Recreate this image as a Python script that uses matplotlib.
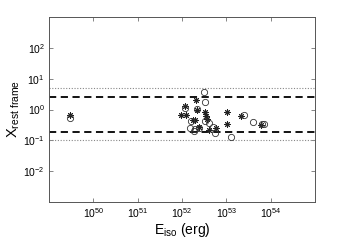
import matplotlib.pyplot as plt
from matplotlib.ticker import FixedLocator, NullLocator

plt.rcParams['font.family'] = ['Liberation Sans', 'DejaVu Sans']
plt.rcParams['mathtext.fontset'] = 'custom'
plt.rcParams['mathtext.rm'] = 'Liberation Sans'

# asterisk points (E_iso in erg, X rest frame)
star_E = [2.94e49, 9.7e51, 1.17e52, 1.25e52, 2.03e52, 2.17e52, 1.77e52, 2.0e52,
          2.41e52, 3.29e52, 3.4e52, 3.65e52, 3.98e52, 5.9e52, 1.03e53, 1.03e53,
          2.12e53, 6.07e53]
star_X = [0.67, 0.67, 1.31, 0.64, 2.0, 0.95, 0.46, 0.45,
          0.28, 0.80, 0.62, 0.51, 0.22, 0.26, 0.80, 0.34,
          0.62, 0.32]

# open circle points
circ_E = [2.99e49, 1.15e52, 1.62e52, 1.49e52, 1.93e52, 1.89e52, 2.21e52, 2.45e52,
          3.12e52, 3.34e52, 3.34e52, 4.05e52, 4.89e52, 5.7e52, 1.29e53, 2.56e53,
          4.07e53, 6.38e53, 7.2e53]
circ_X = [0.55, 1.16, 0.43, 0.26, 0.23, 0.20, 1.03, 0.26,
          3.6, 1.8, 0.41, 0.36, 0.28, 0.17, 0.125, 0.66,
          0.39, 0.33, 0.35]

# horizontal limits
dashed_levels = [2.5, 0.18]
dotted_levels = [4.8, 0.1]

xticks = [1e50, 1e51, 1e52, 1e53, 1e54]
yticks = [1e-2, 1e-1, 1e0, 1e1, 1e2]

fig = plt.figure(figsize=(3.48, 2.42), dpi=100)
ax = fig.add_axes([0.141, 0.165, 0.764, 0.765])
ax.set_xscale("log")
ax.set_yscale("log")

for lv in dotted_levels:
    ax.axhline(lv, color="#888888", linestyle=(0, (1, 1.5)), linewidth=0.8)
for lv in dashed_levels:
    ax.axhline(lv, color="black", linestyle=(0, (4, 2.5)), linewidth=1.3)

# matlab-like asterisk (8 arms)
ax.plot(star_E, star_X, linestyle="none", marker=(8, 2, 0), markersize=4.5,
        color="#222222", markeredgewidth=0.7)
ax.plot(circ_E, circ_X, linestyle="none", marker="o", markersize=4.5,
        markerfacecolor="none", markeredgecolor="#333333", markeredgewidth=0.6)

ax.set_xlim(1e49, 1e55)
ax.set_ylim(1e-3, 1e3)
ax.xaxis.set_major_locator(FixedLocator(xticks))
ax.yaxis.set_major_locator(FixedLocator(yticks))
ax.xaxis.set_minor_locator(NullLocator())
ax.yaxis.set_minor_locator(NullLocator())
ax.tick_params(direction="in", top=True, right=True, labelsize=7.5,
               length=3, width=0.5, color="#555555", pad=3)
for s in ax.spines.values():
    s.set_color("#555555")
    s.set_linewidth(0.7)

ax.set_xlabel(r"E$_{\rm iso}$ (erg)", fontsize=10, labelpad=1)
ax.set_ylabel(r"X$_{\rm rest\ frame}$", fontsize=10.5, labelpad=1)

fig.savefig("out.png", dpi=100)
